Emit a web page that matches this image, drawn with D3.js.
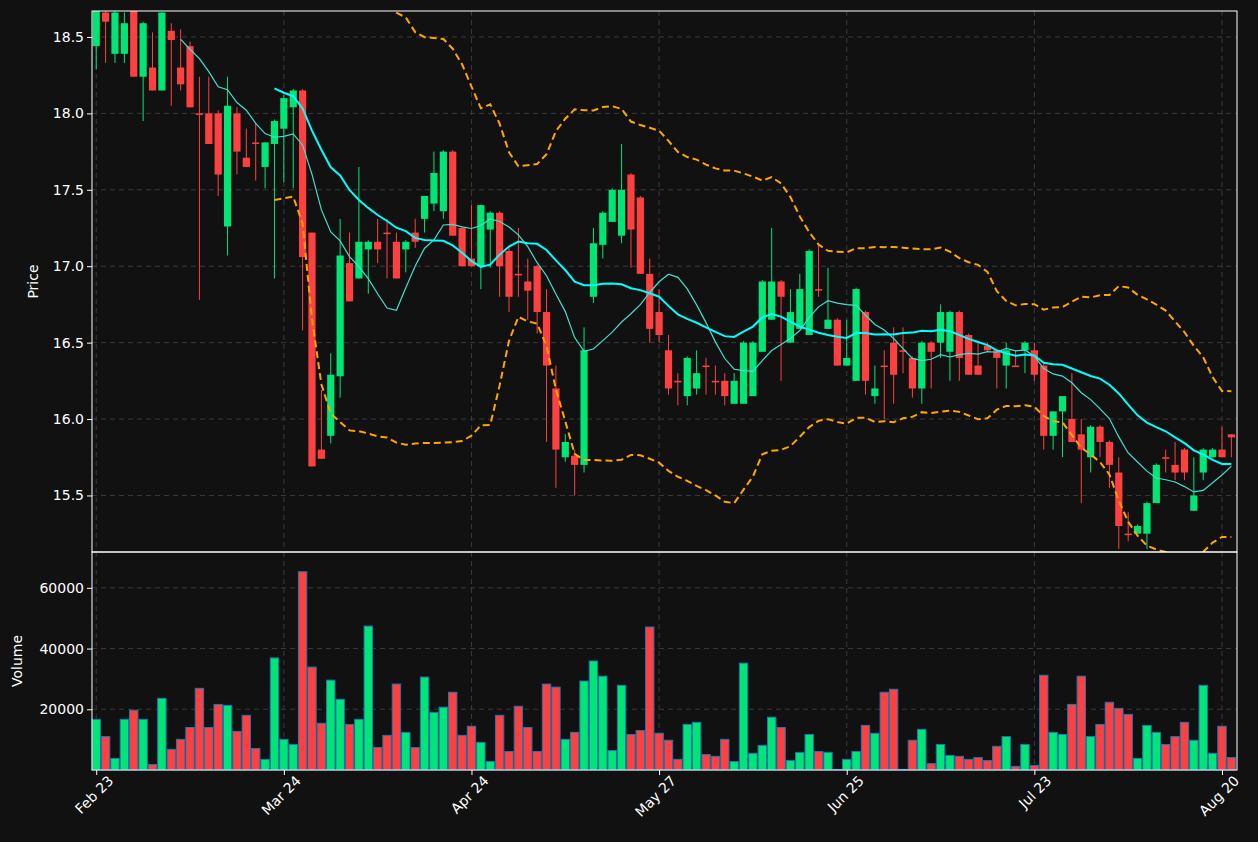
<!DOCTYPE html>
<html>
<head>
<meta charset="utf-8">
<script src="https://cdn.jsdelivr.net/npm/d3@7"></script>
<style>
  body { margin: 0; background: #111111; }
  text { font-family: "DejaVu Sans", sans-serif; fill: #ffffff; }
</style>
</head>
<body>
<svg id="chart" width="1258" height="842"></svg>
<script>
// open, high, low, close per trading day
var opens = [18.44,18.66,18.39,18.39,18.67,18.24,18.3,18.15,18.54,18.3,
  18.44,18.0,18.0,18.0,17.26,18.0,17.71,17.81,17.65,17.8,
  17.9,18.04,18.15,17.22,15.8,15.89,16.28,17.02,16.92,17.11,
  17.16,17.22,17.16,17.11,17.22,17.31,17.41,17.36,17.75,17.25,
  17.05,17.0,17.24,17.35,17.1,16.95,16.9,17.0,16.7,16.2,
  15.75,15.76,15.7,16.8,17.14,17.29,17.2,17.6,17.45,16.95,
  16.7,16.45,16.25,16.15,16.2,16.35,16.25,16.25,16.1,16.1,
  16.15,16.44,16.65,16.9,16.5,16.59,16.55,16.85,16.59,16.65,
  16.35,16.25,16.7,16.15,16.35,16.5,16.45,16.4,16.2,16.5,
  16.5,16.44,16.7,16.55,16.35,16.48,16.45,16.35,16.35,16.45,
  16.45,16.35,15.89,16.05,16.0,15.9,15.75,15.95,15.85,15.65,
  15.25,15.25,15.25,15.45,15.75,15.7,15.8,15.4,15.65,15.75,
  15.8,15.9];
var highs = [18.7,18.68,18.67,18.66,18.67,18.6,18.53,18.66,18.59,18.55,
  18.47,18.24,18.24,18.02,18.24,18.04,17.9,17.94,17.81,17.96,
  18.12,18.16,18.16,17.22,16.19,16.43,17.31,17.22,17.65,17.17,
  17.31,17.31,17.22,17.17,17.31,17.46,17.75,17.76,17.76,17.26,
  17.4,17.4,17.36,17.36,17.12,17.25,17.05,17.01,16.85,16.35,
  15.9,15.8,16.6,17.25,17.36,17.51,17.8,17.61,17.46,17.05,
  16.85,16.55,16.3,16.41,16.45,16.4,16.35,16.3,16.3,16.51,
  16.51,16.91,17.25,16.91,16.85,16.95,17.11,17.14,16.99,16.66,
  16.65,16.86,16.71,16.35,16.45,16.6,16.6,16.41,16.51,16.51,
  16.75,16.71,16.71,16.56,16.5,16.5,16.46,16.5,16.45,16.51,
  16.5,16.36,16.05,16.15,16.3,16.0,15.96,15.96,15.86,15.75,
  15.39,15.31,15.46,15.71,15.8,15.85,15.81,15.75,15.81,15.81,
  15.95,15.9];
var lows = [18.29,18.33,18.33,18.33,18.24,17.95,18.15,18.15,18.05,18.15,
  18.04,16.78,17.8,17.46,17.07,17.6,17.65,17.56,17.51,16.92,
  17.55,17.51,16.58,15.69,15.74,15.84,16.14,16.77,16.92,16.82,
  17.02,16.92,16.92,16.96,17.12,17.22,17.36,17.31,17.2,17.0,
  17.0,16.85,16.99,16.8,16.7,16.8,16.65,16.56,15.85,15.55,
  15.72,15.5,15.65,16.76,17.05,17.29,17.15,16.99,16.95,16.5,
  16.5,16.16,16.09,16.09,16.16,16.16,16.16,16.09,16.1,16.1,
  16.15,16.44,16.65,16.25,16.5,16.59,16.55,16.8,16.59,16.35,
  16.35,16.25,16.16,16.1,16.0,16.1,16.3,16.14,16.1,16.2,
  16.4,16.25,16.25,16.29,16.29,16.44,16.2,16.2,16.35,16.3,
  16.25,15.8,15.8,15.75,15.85,15.45,15.65,15.75,15.55,15.15,
  15.2,15.25,15.15,15.45,15.65,15.6,15.6,15.4,15.6,15.75,
  15.75,15.75];
var closes = [18.68,18.6,18.66,18.59,18.24,18.59,18.15,18.66,18.48,18.19,
  18.04,17.99,17.8,17.6,18.05,17.75,17.65,17.8,17.81,17.95,
  18.1,18.15,17.06,15.69,15.74,16.29,17.07,16.77,17.16,17.16,
  17.11,17.21,16.92,17.16,17.16,17.46,17.61,17.75,17.2,17.0,
  17.0,17.4,17.35,17.0,16.8,16.94,16.84,16.7,16.35,15.8,
  15.85,15.7,16.45,17.15,17.35,17.5,17.5,17.24,16.95,16.59,
  16.55,16.2,16.24,16.4,16.3,16.34,16.24,16.15,16.25,16.5,
  16.5,16.9,16.9,16.8,16.7,16.85,17.1,16.84,16.65,16.35,
  16.4,16.85,16.25,16.2,16.34,16.29,16.44,16.2,16.5,16.44,
  16.7,16.7,16.4,16.29,16.29,16.45,16.4,16.45,16.34,16.5,
  16.29,15.89,16.05,16.15,15.85,15.8,15.95,15.85,15.7,15.3,
  15.24,15.3,15.45,15.7,15.74,15.65,15.65,15.5,15.8,15.8,
  15.75,15.88];
var volumes = [16700,11000,3800,16700,19700,16700,1800,23600,6800,10100,
  14000,26900,14000,21600,21300,12700,18000,7100,3500,36900,
  10100,8400,65300,33900,15400,29600,23300,15000,16700,47400,
  7400,11400,28300,12400,7400,30600,19000,20700,25600,11400,
  14400,9100,2800,18000,6100,21000,14000,6100,28300,27300,
  10100,12400,29300,35900,30900,6400,27900,11700,13000,47100,
  12100,9800,3500,15000,15700,5100,4500,10100,2800,35200,
  5500,8100,17400,14000,3100,5800,11700,6100,5800,200,
  3500,6100,14700,12100,25600,26600,200,9800,13400,2100,
  8400,4800,4500,3500,4100,3100,7800,11000,1200,8400,
  1500,31200,12400,11700,21600,30900,11000,15000,22300,20300,
  18300,3800,14700,12400,8400,11000,15700,9800,27900,5500,
  14400,4100];
var tickIndex = [0, 20, 40, 60, 80, 100, 120];
var tickLabels = ["Feb 23", "Mar 24", "Apr 24", "May 27", "Jun 25", "Jul 23", "Aug 20"];
var priceTicks = [15.5, 16.0, 16.5, 17.0, 17.5, 18.0, 18.5];
var volumeTicks = [20000, 40000, 60000];

var VERDE = "#00e676", VERMELHO = "#ff4040";
var svg = d3.select("#chart");
var esq = 92, dir = 1237;
var topoP = 11, baseP = 552, baseV = 770;

var n = closes.length;
var x = d3.scaleLinear().domain([-0.45, n - 0.4]).range([esq, dir]);
var y = d3.scaleLinear().domain([15.13, 18.67]).range([baseP, topoP]);
var yv = d3.scaleLinear().domain([0, 71800]).range([baseV, baseP]);
var larg = 7.2;

svg.append("rect").attr("width", 1258).attr("height", 842).attr("fill", "#111111");
svg.append("defs").append("clipPath").attr("id", "clipP")
  .append("rect").attr("x", esq).attr("y", topoP).attr("width", dir - esq).attr("height", baseP - topoP);

// grades
function grade(g, ys, escala, y0, y1) {
  g.selectAll(".gh").data(ys).enter().append("line")
    .attr("x1", esq).attr("x2", dir)
    .attr("y1", function(d) { return escala(d); }).attr("y2", function(d) { return escala(d); })
    .attr("stroke", "#3a3a3a").attr("stroke-dasharray", "5,4");
  g.selectAll(".gv").data(tickIndex).enter().append("line")
    .attr("x1", function(d) { return x(d); }).attr("x2", function(d) { return x(d); })
    .attr("y1", y0).attr("y2", y1)
    .attr("stroke", "#3a3a3a").attr("stroke-dasharray", "5,4");
}
grade(svg.append("g"), priceTicks, y, topoP, baseP);
grade(svg.append("g"), volumeTicks, yv, baseP, baseV);

var gp = svg.append("g").attr("clip-path", "url(#clipP)");

// indicadores: media 10, media 20, bandas de bollinger
function media(k) {
  return closes.map(function(c, i) {
    if (i < k - 1) return null;
    return d3.mean(closes.slice(i - k + 1, i + 1));
  });
}
var ma10 = media(10), ma20 = media(20);
var bandaSup = [], bandaInf = [];
closes.forEach(function(c, i) {
  if (i < 19) { bandaSup.push(null); bandaInf.push(null); return; }
  var janela = closes.slice(i - 19, i + 1);
  var m = d3.mean(janela);
  var sd = Math.sqrt(d3.mean(janela.map(function(v) { return (v - m) * (v - m); })));
  bandaSup.push(m + 2 * sd);
  bandaInf.push(m - 2 * sd);
});
function linha(serie, cor, w, tracejado) {
  var l = d3.line().defined(function(d) { return d != null; })
    .x(function(d, i) { return x(i); }).y(function(d) { return y(d); });
  var p = gp.append("path").datum(serie).attr("d", l)
    .attr("fill", "none").attr("stroke", cor).attr("stroke-width", w);
  if (tracejado) p.attr("stroke-dasharray", "7,4");
}

// velas
var velas = gp.selectAll(".vela").data(closes).enter().append("g");
velas.append("line")
  .attr("x1", function(d, i) { return x(i); }).attr("x2", function(d, i) { return x(i); })
  .attr("y1", function(d, i) { return y(highs[i]); }).attr("y2", function(d, i) { return y(lows[i]); })
  .attr("stroke", function(d, i) { return d >= opens[i] ? VERDE : VERMELHO; }).attr("stroke-width", 1);
velas.append("rect")
  .attr("x", function(d, i) { return x(i) - larg / 2; })
  .attr("width", larg)
  .attr("y", function(d, i) { return y(Math.max(d, opens[i])); })
  .attr("height", function(d, i) { return Math.max(1, Math.abs(y(d) - y(opens[i]))); })
  .attr("fill", function(d, i) { return d >= opens[i] ? VERDE : VERMELHO; });

linha(ma10, "#40e0d0", 1.2, false);
linha(ma20, "#00ffff", 2, false);
linha(bandaSup, "#ffa500", 2, true);
linha(bandaInf, "#ffa500", 2, true);

// volume
svg.append("g").selectAll("rect").data(volumes).enter().append("rect")
  .attr("x", function(d, i) { return x(i) - 4.2; })
  .attr("width", 8.4)
  .attr("y", function(d) { return yv(d); })
  .attr("height", function(d) { return baseV - yv(d); })
  .attr("fill", function(d, i) { return closes[i] >= opens[i] ? VERDE : VERMELHO; })
  .attr("stroke", "#1f77b4").attr("stroke-width", 1);

// molduras
svg.append("rect").attr("x", esq).attr("y", topoP).attr("width", dir - esq).attr("height", baseP - topoP)
  .attr("fill", "none").attr("stroke", "#ffffff").attr("stroke-width", 1);
svg.append("rect").attr("x", esq).attr("y", baseP).attr("width", dir - esq).attr("height", baseV - baseP)
  .attr("fill", "none").attr("stroke", "#ffffff").attr("stroke-width", 1);

// eixos
function estilo(g) {
  g.select(".domain").remove();
  g.selectAll(".tick line").attr("stroke", "#ffffff");
  g.selectAll(".tick text").attr("fill", "#ffffff").style("font-size", "14px");
}
svg.append("g").attr("transform", "translate(" + esq + ",0)")
  .call(d3.axisLeft(y).tickValues(priceTicks).tickFormat(d3.format(".1f")).tickSize(5)).call(estilo);
svg.append("g").attr("transform", "translate(" + esq + ",0)")
  .call(d3.axisLeft(yv).tickValues(volumeTicks).tickFormat(d3.format("d")).tickSize(5)).call(estilo);
var ax = svg.append("g").attr("transform", "translate(0," + baseV + ")")
  .call(d3.axisBottom(x).tickValues(tickIndex).tickFormat(function(d, i) { return tickLabels[i]; }).tickSize(5))
  .call(estilo);
ax.selectAll(".tick text")
  .attr("text-anchor", "end").attr("dx", "0.3em").attr("dy", "0.9em")
  .attr("transform", "rotate(-45)");

svg.append("text").attr("transform", "translate(38," + ((topoP + baseP) / 2) + ") rotate(-90)")
  .attr("text-anchor", "middle").style("font-size", "14px").text("Price");
svg.append("text").attr("transform", "translate(22," + ((baseP + baseV) / 2) + ") rotate(-90)")
  .attr("text-anchor", "middle").style("font-size", "14px").text("Volume");
</script>
</body>
</html>
